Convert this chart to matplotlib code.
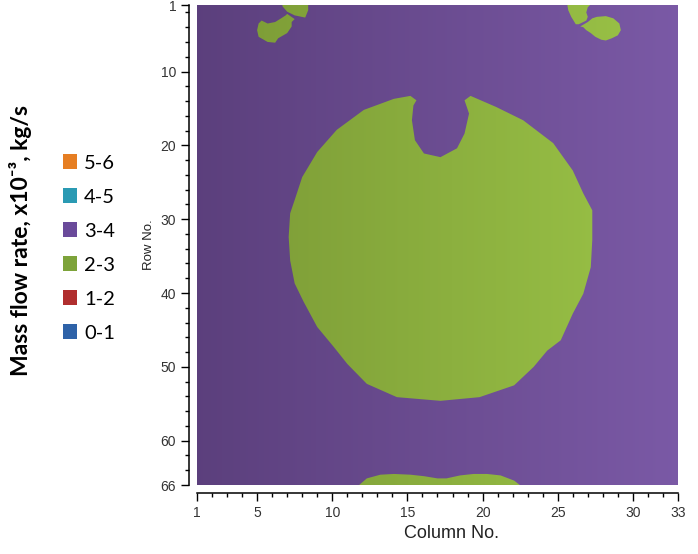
import numpy as np
import matplotlib
matplotlib.use("Agg")
import matplotlib.pyplot as plt
from matplotlib.path import Path
from matplotlib.patches import PathPatch, Patch
from matplotlib.ticker import MultipleLocator, FixedLocator

# Grid size ------------------------------------------------------------
n_cols = 33
n_rows = 66

# Outline of the 2-3 region (column, row) -------------------------------
core_cols = [15.2, 14.1, 12.1, 10.3, 9.0, 8.0, 7.5, 7.2, 7.1, 7.2, 7.5, 8.1, 9.0,
             10.1, 11.0, 12.3, 14.3, 17.2, 19.8, 22.1, 23.4, 24.3, 25.2, 26.0,
             26.7, 27.2, 27.3, 27.3, 26.7, 26.0, 24.7, 22.7, 20.9, 19.2, 18.8,
             19.1, 18.8, 18.3, 17.2, 16.1, 15.5, 15.3, 15.4, 15.6]
core_rows = [13.3, 13.7, 15.2, 17.9, 20.9, 24.3, 27.4, 29.2, 32.4, 35.6, 38.7,
             41.2, 44.6, 47.3, 49.6, 52.3, 54.1, 54.6, 54.1, 52.5, 50.0, 47.8,
             46.4, 42.8, 40.1, 36.5, 32.8, 28.8, 26.5, 23.4, 19.7, 16.6, 14.8,
             13.3, 13.9, 15.7, 18.4, 20.4, 21.6, 21.1, 19.3, 16.6, 14.6, 13.9]

top_left_a_cols = [6.6, 8.4, 8.4, 8.2, 7.5, 7.0, 6.7]
top_left_a_rows = [0.5, 0.5, 1.7, 2.7, 2.4, 1.9, 1.2]
top_left_b_cols = [7.0, 7.5, 7.3, 7.3, 7.0, 6.4, 6.2, 5.7, 5.1, 5.0, 5.1, 5.3,
                   5.7, 6.2, 6.6, 6.9]
top_left_b_rows = [2.2, 2.9, 3.3, 3.9, 4.8, 5.5, 6.1, 6.0, 5.3, 4.4, 3.5, 3.1,
                   3.5, 3.3, 2.8, 2.4]

top_right_a_cols = [25.6, 27.4, 27.0, 26.9, 27.0, 26.9, 26.4, 26.2, 25.9, 25.7]
top_right_a_rows = [0.5, 0.5, 1.3, 2.0, 2.6, 3.1, 3.6, 3.6, 2.6, 1.7]
top_right_b_cols = [26.5, 27.0, 27.3, 27.6, 28.2, 28.7, 29.1, 29.2, 29.0, 28.6,
                    28.2, 27.9, 27.5, 27.2, 26.9, 26.7]
top_right_b_rows = [3.9, 3.3, 2.8, 2.6, 2.5, 2.8, 3.5, 4.4, 5.1, 5.5, 5.8, 5.7,
                    5.3, 4.8, 4.4, 4.0]

bottom_cols = [11.5, 12.3, 13.2, 14.1, 15.2, 16.1, 17.0, 17.6, 18.5, 19.4, 20.3,
               21.2, 22.1, 22.8]
bottom_rows = [66.5, 65.1, 64.6, 64.5, 64.6, 64.8, 65.1, 65.1, 64.7, 64.5, 64.5,
               64.7, 65.4, 66.5]

# Legend classes -------------------------------------------------------
classes = ['5-6', '4-5', '3-4', '2-3', '1-2', '0-1']
class_colors = ['#E67E22', '#2A9AB3', '#6A4A9A', '#7DA33A', '#B02E2E', '#2E62A8']

# Shading of the two bands that appear (left -> right)
purple_left, purple_right = (0.36, 0.25, 0.49), (0.48, 0.35, 0.65)
green_left, green_right = (0.48, 0.60, 0.21), (0.61, 0.77, 0.28)


def gradient(c0, c1, n=200):
    t = np.linspace(0, 1, n)[None, :, None]
    return np.array(c0)[None, None, :] * (1 - t) + np.array(c1)[None, None, :] * t


fig = plt.figure(figsize=(6.98, 5.54), dpi=100)
ax = fig.add_axes([0.2822, 0.1245, 0.6891, 0.8664])
extent = (1, n_cols, n_rows, 1)

ax.imshow(gradient(purple_left, purple_right), extent=extent, aspect='auto',
          interpolation='bilinear', zorder=1)

verts, codes = [], []
for cols, rows in [(core_cols, core_rows),
                   (top_left_a_cols, top_left_a_rows),
                   (top_left_b_cols, top_left_b_rows),
                   (top_right_a_cols, top_right_a_rows),
                   (top_right_b_cols, top_right_b_rows),
                   (bottom_cols, bottom_rows)]:
    pts = list(zip(cols, rows))
    verts += pts + [pts[0]]
    codes += [Path.MOVETO] + [Path.LINETO] * (len(pts) - 1) + [Path.CLOSEPOLY]
green_patch = PathPatch(Path(verts, codes), facecolor='none', edgecolor='none',
                        transform=ax.transData)
ax.add_patch(green_patch)
im = ax.imshow(gradient(green_left, green_right), extent=extent, aspect='auto',
               interpolation='bilinear', zorder=2)
im.set_clip_path(green_patch)

ax.set_xlim(1, n_cols)
ax.set_ylim(n_rows, 1)

# Axes styling ---------------------------------------------------------
for side in ['top', 'right']:
    ax.spines[side].set_visible(False)
for side in ['left', 'bottom']:
    ax.spines[side].set_position(('outward', 5.5))
    ax.spines[side].set_linewidth(1.1)

ax.xaxis.set_major_locator(FixedLocator([1, 5, 10, 15, 20, 25, 30, 33]))
ax.xaxis.set_minor_locator(MultipleLocator(1))
ax.yaxis.set_major_locator(FixedLocator([1, 10, 20, 30, 40, 50, 60, 66]))
ax.yaxis.set_minor_locator(FixedLocator(list(range(2, 66, 2))))
ax.tick_params(which='major', length=6, width=1.0, direction='out')
ax.tick_params(which='minor', length=3, width=1.0, direction='out')
for lab in ax.get_xticklabels() + ax.get_yticklabels():
    lab.set_fontproperties('Liberation Sans')
    lab.set_fontsize(10)
    lab.set_color('#333333')

ax.set_xlabel('Column No.', family='Liberation Sans', fontsize=13,
              color='#222222')
ax.xaxis.set_label_coords(0.53, -0.083)
ax.set_ylabel('Row No.', family='Liberation Sans', fontsize=9.5,
              color='#222222', labelpad=4)

# Legend ---------------------------------------------------------------
handles = [Patch(facecolor=c, edgecolor='none') for c in class_colors]
fig.legend(handles, classes, loc='upper left', bbox_to_anchor=(0.064, 0.754),
           frameon=False, handlelength=0.7, handleheight=0.7,
           handletextpad=0.35, labelspacing=0.84,
           prop=dict(family=['Lato', 'DejaVu Sans'], size=14.5))

fig.text(0.029, 0.565, 'Mass flow rate, x10\u207b\u00b3, kg/s',
         rotation=90, ha='center', va='center', fontsize=16.5,
         fontweight='bold', family=['Lato', 'DejaVu Sans'])

fig.savefig('out.png', dpi=100)
